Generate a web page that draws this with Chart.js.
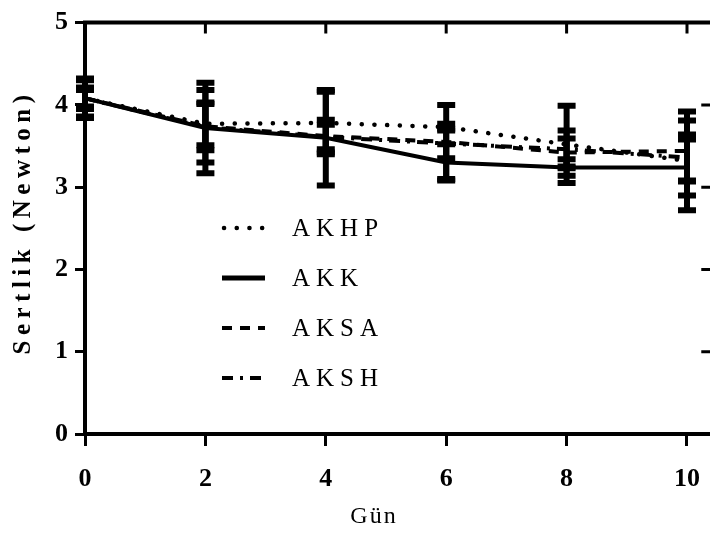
<!DOCTYPE html>
<html>
<head>
<meta charset="utf-8">
<script src="https://cdn.jsdelivr.net/npm/chart.js@4.4.1/dist/chart.umd.min.js"></script>
<style>
  html, body { margin: 0; padding: 0; background: #fff; overflow: hidden; }
  #chart { display: block; }
</style>
</head>
<body>
<canvas id="chart" width="718" height="537"></canvas>
<script>
// Days and hardness values (Newton)
const days = [0, 2, 4, 6, 8, 10];
const seriesNames = ['AKHP', 'AKK', 'AKSA', 'AKSH'];

const akhp = [4.08, 3.77, 3.78, 3.73, 3.52, 3.32];
const akk  = [4.08, 3.72, 3.60, 3.30, 3.24, 3.24];
const aksa = [4.08, 3.74, 3.62, 3.55, 3.42, 3.44];
const aksh = [4.08, 3.73, 3.61, 3.53, 3.46, 3.36];

// standard deviations (error bars)
const akhpSd = [0.24, 0.26, 0.38, 0.04, 0.47, 0.60];
const akkSd  = [0.22, 0.55, 0.58, 0.22, 0.10, 0.34];
const aksaSd = [0.13, 0.44, 0.20, 0.45, 0.17, 0.37];
const akshSd = [0.10, 0.28, 0.15, 0.18, 0.23, 0.28];

const yTicks = [0, 1, 2, 3, 4, 5];
const xTicks = [0, 2, 4, 6, 8, 10];

const serif = '"Liberation Serif", "Times New Roman", serif';

const styles = [
  { dash: [0.1, 12.6], cap: 'round', width: 4.5 },
  { dash: [], cap: 'butt', width: 4 },
  { dash: [10, 8], cap: 'butt', width: 4 },
  { dash: [11, 7, 3, 7], cap: 'butt', width: 4 }
];

function points(vals) {
  return days.map((d, i) => ({ x: d, y: vals[i] }));
}

const allVals = [akhp, akk, aksa, aksh];
const allSd = [akhpSd, akkSd, aksaSd, akshSd];

const datasets = seriesNames.map((name, i) => ({
  label: name,
  data: points(allVals[i]),
  sd: allSd[i],
  borderColor: '#000',
  backgroundColor: '#000',
  borderWidth: styles[i].width,
  borderDash: styles[i].dash,
  borderCapStyle: styles[i].cap,
  pointRadius: 0,
  tension: 0,
  fill: false
}));

// error bars with caps
const errorBars = {
  id: 'errorBars',
  afterDatasetsDraw(chart) {
    const ctx = chart.ctx;
    const xs = chart.scales.x, ys = chart.scales.y;
    ctx.save();
    ctx.strokeStyle = '#000';
    chart.data.datasets.forEach(ds => {
      ds.data.forEach((p, i) => {
        const px = xs.getPixelForValue(p.x);
        const top = ys.getPixelForValue(p.y + ds.sd[i]);
        const bot = ys.getPixelForValue(p.y - ds.sd[i]);
        ctx.setLineDash([]);
        ctx.lineCap = 'butt';
        ctx.lineWidth = 6;
        ctx.beginPath();
        ctx.moveTo(px, top);
        ctx.lineTo(px, bot);
        ctx.stroke();
        ctx.beginPath();
        ctx.moveTo(px - 9, top);
        ctx.lineTo(px + 9, top);
        ctx.moveTo(px - 9, bot);
        ctx.lineTo(px + 9, bot);
        ctx.stroke();
      });
    });
    ctx.restore();
  }
};

// top line, inward ticks on top and right, titles and legend
const frame = {
  id: 'frame',
  afterDraw(chart) {
    const ctx = chart.ctx;
    const a = chart.chartArea;
    const xs = chart.scales.x, ys = chart.scales.y;
    ctx.save();
    ctx.strokeStyle = '#000';
    ctx.fillStyle = '#000';
    ctx.setLineDash([]);
    ctx.lineWidth = 4;
    ctx.beginPath();
    ctx.moveTo(a.left - 2, a.top);
    ctx.lineTo(a.right + 4, a.top);
    ctx.stroke();
    ctx.lineWidth = 3;
    ctx.beginPath();
    xTicks.slice(1).forEach(v => {
      const px = xs.getPixelForValue(v);
      ctx.moveTo(px, a.top);
      ctx.lineTo(px, a.top + 11);
    });
    yTicks.slice(1, -1).forEach(v => {
      const py = ys.getPixelForValue(v);
      ctx.moveTo(a.right - 8, py);
      ctx.lineTo(a.right + 2, py);
    });
    ctx.stroke();

    // axis titles
    ctx.letterSpacing = '5.5px';
    ctx.font = 'bold 25px ' + serif;
    ctx.textAlign = 'center';
    ctx.textBaseline = 'middle';
    ctx.save();
    ctx.translate(24, 222);
    ctx.rotate(-Math.PI / 2);
    ctx.fillText('Sertlik (Newton)', 0, 0);
    ctx.restore();

    ctx.letterSpacing = '2px';
    ctx.font = '24px ' + serif;
    ctx.fillText('Gün', 374, 517);

    // legend
    ctx.textAlign = 'left';
    ctx.letterSpacing = '6px';
    ctx.font = '25px ' + serif;
    chart.data.datasets.forEach((ds, i) => {
      const y = 228 + i * 50;
      ctx.lineWidth = ds.borderWidth + (i === 1 ? 1 : 0);
      ctx.lineCap = ds.borderCapStyle;
      ctx.setLineDash(ds.borderDash);
      ctx.beginPath();
      ctx.moveTo(i === 0 ? 224 : 222, y);
      ctx.lineTo(265, y);
      ctx.stroke();
      ctx.setLineDash([]);
      ctx.fillText(ds.label, 292, y + 1);
    });
    ctx.restore();
  }
};

new Chart(document.getElementById('chart'), {
  type: 'line',
  data: { datasets },
  options: {
    responsive: false,
    animation: false,
    devicePixelRatio: 1,
    layout: { autoPadding: false, padding: { top: 11, right: 0, left: 0, bottom: 0 } },
    plugins: { legend: { display: false }, tooltip: { enabled: false } },
    scales: {
      x: {
        type: 'linear',
        min: 0,
        max: 10.37,
        afterFit(s) { s.height = 103; },
        afterBuildTicks(s) { s.ticks = xTicks.map(v => ({ value: v })); },
        border: { color: '#000', width: 4 },
        grid: { drawOnChartArea: false, color: '#000', lineWidth: 3, tickLength: 12 },
        ticks: { color: '#000', font: { family: serif, size: 26, weight: 'bold' }, padding: 18 }
      },
      y: {
        min: 0,
        max: 5,
        afterFit(s) { s.width = 85; },
        afterBuildTicks(s) { s.ticks = yTicks.map(v => ({ value: v })); },
        border: { color: '#000', width: 4 },
        grid: { drawOnChartArea: false, color: '#000', lineWidth: 3, tickLength: 10 },
        ticks: { color: '#000', font: { family: serif, size: 26, weight: 'bold' }, padding: 7 }
      }
    }
  },
  plugins: [errorBars, frame]
});
</script>
</body>
</html>
